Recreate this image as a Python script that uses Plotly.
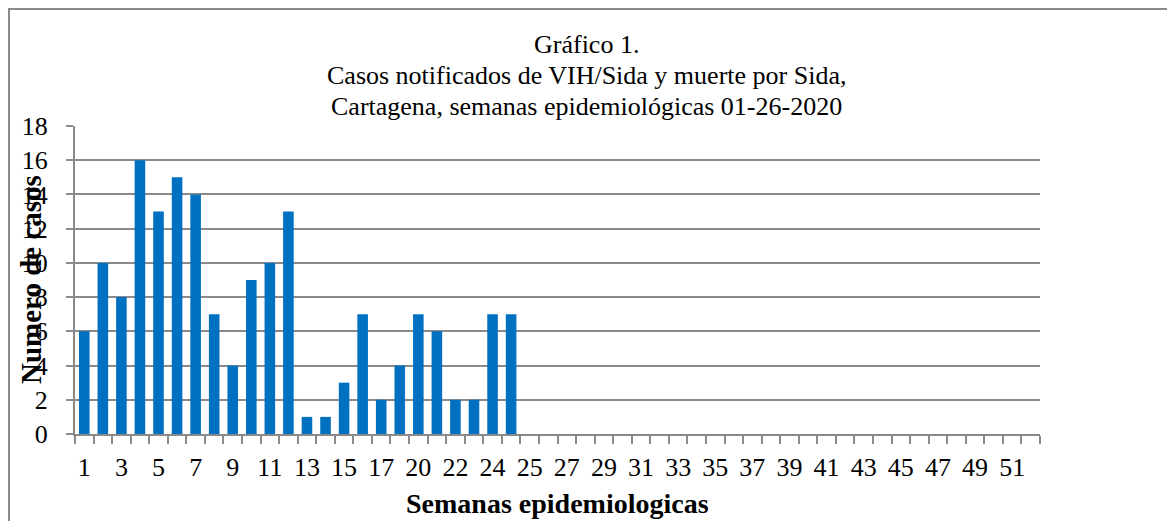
import plotly.graph_objects as go

# Category labels (52 epidemiological weeks as shown on the axis)
week_labels = ["1", "2", "3", "4", "5", "6", "7", "8", "9", "10", "11", "12", "13",
               "14", "15", "16", "17", "18", "20", "21", "22", "23", "24", "24",
               "25", "26", "27", "28", "29", "30", "31", "32", "33", "34", "35",
               "36", "37", "38", "39", "40", "41", "42", "43", "44", "45", "46",
               "47", "48", "49", "50", "51", "52"]
# Reported cases per week (first 24 weeks with data)
cases = [6, 10, 8, 16, 13, 15, 14, 7, 4, 9, 10, 13, 1, 1, 3, 7, 2, 4, 7, 6, 2, 2, 7, 7]

title_lines = ["Gráfico 1.",
               "Casos notificados de VIH/Sida y muerte por Sida,",
               "Cartagena, semanas epidemiológicas 01-26-2020"]
x_title = "Semanas epidemiologicas"
y_title = "Numero de casos"

FONT = "Liberation Serif"
GRAY = "#8a8a8a"
positions = list(range(len(week_labels)))

# figure is placed at (8, 8) in the page by the default body margin
W, H = 1164, 513
PL, PR, PT, PB = 67, 1032, 118, 426   # plot area in figure pixels
L, R, T, B = PL, W - PR, PT, H - PB
pw = PR - PL
ph = PB - PT


def px(x):
    return (x - PL) / pw


def py(y):
    return (PB - y) / ph


fig = go.Figure()
fig.add_trace(go.Bar(
    x=positions[:len(cases)], y=cases,
    marker=dict(color="#0070C0", line=dict(width=0)),
    width=0.57, showlegend=False,
))

fig.update_layout(
    width=W, height=H,
    margin=dict(l=L, r=R, t=T, b=B),
    paper_bgcolor="white", plot_bgcolor="white",
    font=dict(family=FONT, color="black", size=26),
    xaxis=dict(
        range=[-0.5, len(week_labels) - 0.5],
        tickmode="array",
        tickvals=positions[::2],
        ticktext=week_labels[::2],
        ticks="", showgrid=False,
        showline=True, linecolor=GRAY, linewidth=2,
        tickfont=dict(size=26, family=FONT),
        ticklabelstandoff=9,
        minor=dict(tick0=-0.5, dtick=1, ticks="outside", ticklen=8,
                   tickcolor=GRAY, tickwidth=1.5, showgrid=False),
        zeroline=False,
    ),
    yaxis=dict(
        range=[0, 18], dtick=2,
        showgrid=True, gridcolor=GRAY, gridwidth=1.5,
        ticks="outside", ticklen=7, tickcolor=GRAY, tickwidth=1.5,
        showline=True, linecolor=GRAY, linewidth=2,
        zeroline=False,
        tickfont=dict(size=26, family=FONT),
        ticklabelstandoff=13,
    ),
)

# Title (three centred lines)
for line, yc in zip(title_lines, [36, 68, 98]):
    fig.add_annotation(
        text=line, xref="paper", yref="paper",
        x=px(578), y=py(yc), xanchor="center", yanchor="middle",
        showarrow=False, font=dict(size=26, family=FONT, color="black"),
    )

# X axis title
fig.add_annotation(
    text="<b>" + x_title + "</b>",
    xref="paper", yref="paper",
    x=px(549), y=py(495),
    xanchor="center", yanchor="middle",
    showarrow=False, font=dict(size=28, family=FONT, color="black"),
)

# Y axis title (overlapping the tick labels, as in the reference)
fig.add_annotation(
    text="<b>" + y_title + "</b>",
    xref="paper", yref="paper",
    x=px(23), y=py(272),
    xanchor="center", yanchor="middle", textangle=-90,
    showarrow=False, font=dict(size=29, family=FONT, color="black"),
)

# Outer chart border
fig.add_shape(
    type="rect", xref="paper", yref="paper",
    x0=px(1), x1=px(1161), y0=py(540), y1=py(1),
    line=dict(color=GRAY, width=2), fillcolor="rgba(0,0,0,0)",
)

fig.write_html("out.html")
